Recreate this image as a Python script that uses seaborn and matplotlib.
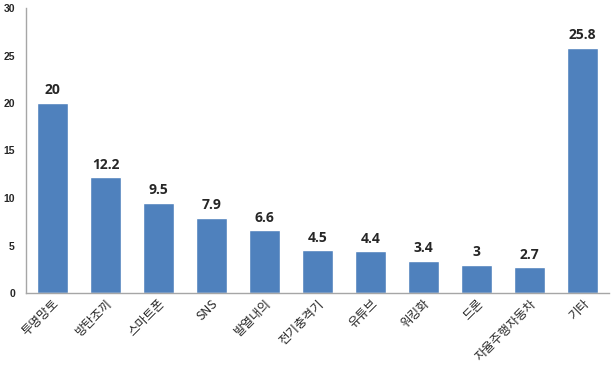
import matplotlib
matplotlib.use("Agg")
import matplotlib.pyplot as plt
import seaborn as sns
import pandas as pd

categories = ["투명망토", "방탄조끼", "스마트폰", "SNS", "발열내의", "전기충격기",
              "유튜브", "워킹화", "드론", "자율주행자동차", "기타"]
values = [20, 12.2, 9.5, 7.9, 6.6, 4.5, 4.4, 3.4, 3, 2.7, 25.8]
value_labels = ["20", "12.2", "9.5", "7.9", "6.6", "4.5", "4.4", "3.4", "3", "2.7", "25.8"]
yticks = [0, 5, 10, 15, 20, 25, 30]

sns.set_style("white")
plt.rcParams['font.family'] = ['Noto Sans CJK KR', 'DejaVu Sans']

df = pd.DataFrame({"cat": categories, "val": values})

fig = plt.figure(figsize=(6.13, 3.77), dpi=100)
ax = fig.add_axes([26 / 613, 1 - 293 / 377, 583 / 613, 285 / 377])
sns.barplot(data=df, x="cat", y="val", color="#4F81BD", saturation=1, width=0.57, ax=ax)

ax.set_ylim(0, 30)
ax.set_xlim(-0.5, len(categories) - 0.5)
ax.set_yticks(yticks)
ax.set_yticklabels([str(t) for t in yticks], fontsize=7.5, fontweight='bold',
                   family=['Liberation Sans', 'DejaVu Sans'])
ax.set_xlabel("")
ax.set_ylabel("")
ax.tick_params(axis='both', length=0, pad=8)
ax.tick_params(axis='x', pad=3)
plt.setp(ax.get_xticklabels(), rotation=45, ha='right', va='top', rotation_mode='anchor', fontsize=9)

for s in ['top', 'right']:
    ax.spines[s].set_visible(False)
for s in ['left', 'bottom']:
    ax.spines[s].set_color('#A6A6A6')
    ax.spines[s].set_linewidth(1)

for i, (v, lab) in enumerate(zip(values, value_labels)):
    ax.annotate(lab, (i, v), xytext=(0, 4), textcoords='offset points',
                ha='center', va='bottom', fontsize=10, fontweight='bold',
                family=['Open Sans', 'DejaVu Sans'])

fig.savefig("out.png", dpi=100)
